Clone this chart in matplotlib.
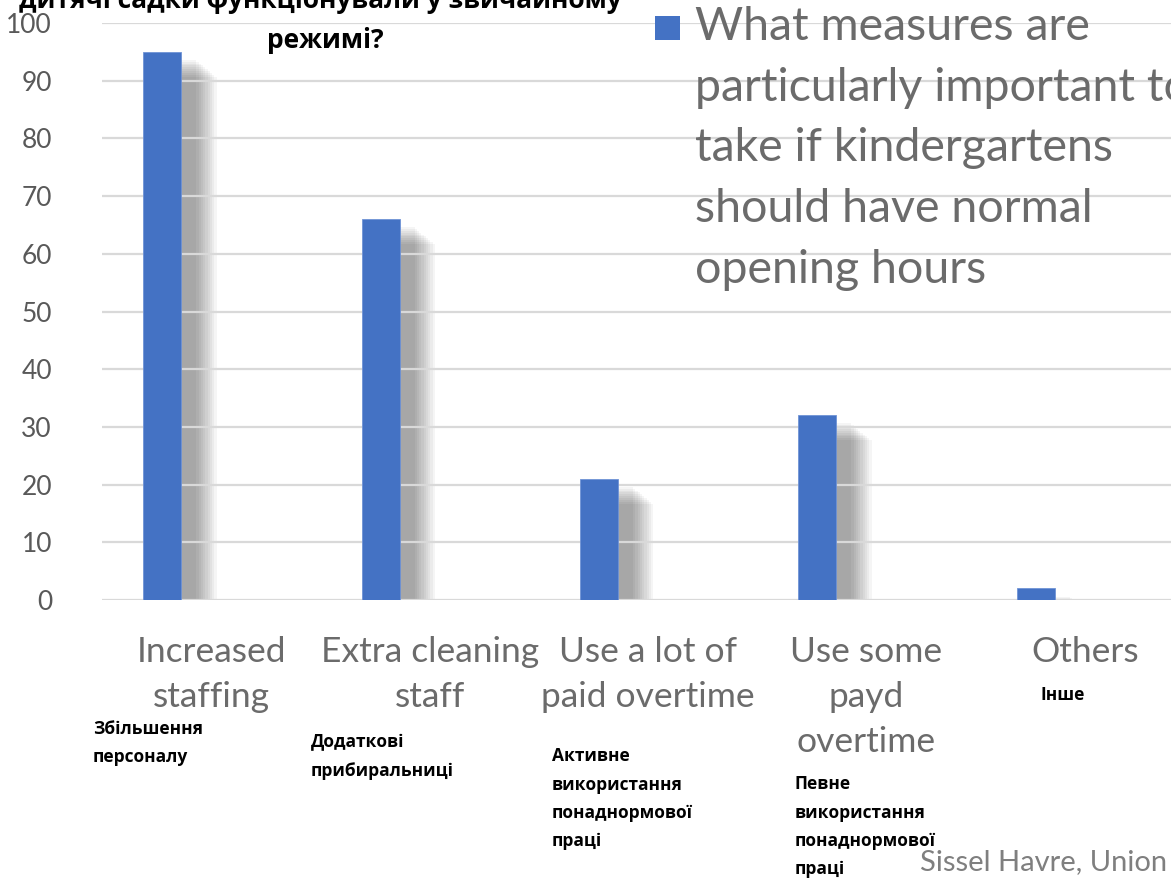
import numpy as np
import matplotlib
matplotlib.use("Agg")
from matplotlib import pyplot as plt
from matplotlib.patches import Rectangle

# data
categories = ["Increased\nstaffing", "Extra cleaning\nstaff", "Use a lot of\npaid overtime",
              "Use some\npayd\novertime", "Others"]
values = [95, 66, 21, 32, 2]
ua_labels = ["Збільшення\nперсоналу", "Додаткові\nприбиральниці",
             "Активне\nвикористання\nпонаднормової\nпраці",
             "Певне\nвикористання\nпонаднормової\nпраці", "Інше"]
yticks = [0, 10, 20, 30, 40, 50, 60, 70, 80, 90, 100]
legend_label = ("What measures are\nparticularly important to\ntake if kindergartens\n"
                "should have normal\nopening hours")
title_lines = ["дитячі садки функціонували у звичайному", "режимі?"]
credit = "Sissel Havre, Union"

W, H = 1171, 886
fig = plt.figure(figsize=(W / 100, H / 100), dpi=100)
fig.patch.set_facecolor("white")

# axes runs off the right edge like the cropped original
ax = fig.add_axes([102 / W, (H - 600) / H, 1092 / W, 577 / H])
ax.set_facecolor("none")

x = np.arange(len(values))
vals = np.array(values)
bar_w = 0.174
off = -0.224
blue = "#4472c4"

# soft blurred drop shadow behind each bar
px = 1 / 218.5
for k in range(10):
    ax.bar(x + off + 18 * px, vals - 0.6 - 0.12 * k, bottom=-0.8 - 0.2 * k,
           width=bar_w + (4.5 * k - 6) * px, color="black", alpha=0.04, zorder=1, linewidth=0)

ax.bar(x + off, values, width=bar_w, color=blue, zorder=2, linewidth=0.6, edgecolor="#6f93d6")

ax.set_xlim(-0.5, len(values) - 0.5)
ax.set_ylim(0, 100)
ax.set_yticks(yticks)
ax.set_yticklabels([str(v) for v in yticks], fontsize=19, color="#595959", family="Lato")
ax.set_xticks(x)
ax.set_xticklabels(categories, fontsize=25.5, color="#6b6b6b", family="Lato", linespacing=1.5)
ax.tick_params(axis="both", length=0)
ax.tick_params(axis="y", pad=36)
ax.tick_params(axis="x", pad=26)
ax.set_axisbelow("line")
ax.yaxis.grid(True, color="#d9d9d9", linewidth=1.6)
for s in ax.spines.values():
    s.set_visible(False)

# ukrainian translations under the categories
ua_pos = [(93, 720), (311, 733), (552, 747), (795, 775), (1040, 686)]
for lab, (lx, ly) in zip(ua_labels, ua_pos):
    fig.text(lx / W, 1 - ly / H, lab, fontsize=12.5, fontweight="bold", family=["Open Sans", "DejaVu Sans"],
             color="black", ha="left", va="top", linespacing=1.75)

# legend drawn like the Excel one, marker next to the first line
fig.patches.append(Rectangle((655 / W, 1 - 40 / H), 25 / W, 24 / H, transform=fig.transFigure,
                             facecolor=blue, edgecolor="none"))
fig.text(695 / W, 1 - 6 / H, legend_label, fontsize=33.5, color="#6b6b6b", family="Lato",
         ha="left", va="top", linespacing=1.55)

# title, mostly cut off at the top
fig.text(320 / W, 1 - 1 / H, title_lines[0], fontsize=19, fontweight="bold",
         family=["Open Sans", "DejaVu Sans"], ha="center", va="center")
fig.text(325 / W, 1 - 40 / H, title_lines[1], fontsize=19, fontweight="bold",
         family=["Open Sans", "DejaVu Sans"], ha="center", va="center")

fig.text(920 / W, 1 - 862 / H, credit, fontsize=21, color="#7f7f7f", family="Lato",
         ha="left", va="center")

fig.savefig("out.png", dpi=100)
